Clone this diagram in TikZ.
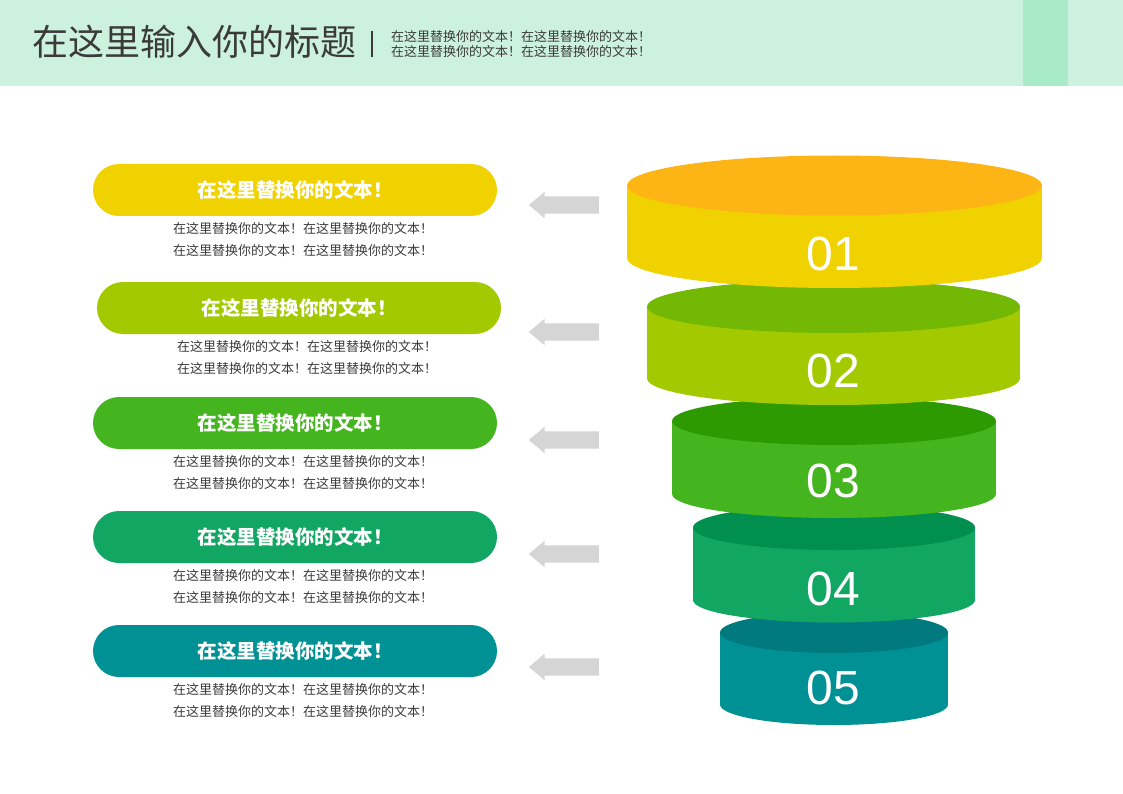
\documentclass[tikz,border=0pt]{standalone}
\usepackage{fontspec}
\setmainfont{Liberation Sans}
\newfontfamily\cjk{Noto Sans CJK SC}
\usetikzlibrary{shapes.arrows}
\definecolor{headMint}{HTML}{CCF1DE}
\definecolor{headStrip}{HTML}{A9EBC9}
\definecolor{arrowGray}{HTML}{D5D5D5}
\definecolor{textGray}{HTML}{3A3A3A}
\definecolor{topA}{HTML}{FDB515}
\definecolor{sideA}{HTML}{F0D200}
\definecolor{topB}{HTML}{72B805}
\definecolor{sideB}{HTML}{A3CA00}
\definecolor{topC}{HTML}{2E9A02}
\definecolor{sideC}{HTML}{44B51F}
\definecolor{topD}{HTML}{008F4F}
\definecolor{sideD}{HTML}{12A663}
\definecolor{topE}{HTML}{007A7E}
\definecolor{sideE}{HTML}{009194}

\begin{document}
\begin{tikzpicture}[x=1pt, y=-1pt,
    every node/.style={inner sep=0pt},
    pill/.style={rounded corners=26pt, minimum width=404pt, minimum height=52pt, text=white, font=\cjk\bfseries\fontsize{19.5}{21}\selectfont},
    note/.style={align=center, text=textGray, font=\cjk\fontsize{13}{21.5}\selectfont},
    num/.style={text=white, font=\fontsize{48}{48}\selectfont},
    back/.style={single arrow, fill=arrowGray, inner xsep=0pt, inner ysep=8.5pt, minimum height=70pt, single arrow head extend=4.5pt, single arrow tip angle=80, shape border rotate=180}]
    \useasboundingbox (0,0) rectangle (1123,794);
    % header band
    \fill[headMint] (0,0) rectangle (1123,86);
    \fill[headStrip] (1023,0) rectangle (1068,86);
    \node[anchor=west, text=textGray, font=\cjk\fontsize{36}{36}\selectfont] (title) at (32,42) {在这里输入你的标题};
    \draw[textGray, line width=1.2pt] (372,31) -- (372,57);
    \node[anchor=west, align=left, text=textGray, font=\cjk\fontsize{13}{15}\selectfont] (sub) at (391,44) {在这里替换你的文本！在这里替换你的文本！\\在这里替换你的文本！在这里替换你的文本！};

    % funnel, drawn from the bottom layer up
    \fill[sideE] (720,632.5) rectangle (948,704.5);
    \fill[sideE] (834,704.5) ellipse [x radius=114, y radius=20.5];
    \fill[topE] (834,632.5) ellipse [x radius=114, y radius=20.5];
    \node[num] (n5) at (833,688) {05};

    \fill[sideD] (693,527.5) rectangle (975,600);
    \fill[sideD] (834,600) ellipse [x radius=141, y radius=22.5];
    \fill[topD] (834,527.5) ellipse [x radius=141, y radius=22.5];
    \node[num] (n4) at (833,589) {04};

    \fill[sideC] (672,421) rectangle (996,494);
    \fill[sideC] (834,494) ellipse [x radius=162, y radius=24];
    \fill[topC] (834,421) ellipse [x radius=162, y radius=24];
    \node[num] (n3) at (833,481) {03};

    \fill[sideB] (647,306.5) rectangle (1020,378.5);
    \fill[sideB] (833.5,378.5) ellipse [x radius=186.5, y radius=26.5];
    \fill[topB] (833.5,306.5) ellipse [x radius=186.5, y radius=26.5];
    \node[num] (n2) at (833,371) {02};

    \fill[sideA] (627,185.5) rectangle (1042,258);
    \fill[sideA] (834.5,258) ellipse [x radius=207.5, y radius=30];
    \fill[topA] (834.5,185.5) ellipse [x radius=207.5, y radius=30];
    \node[num] (n1) at (833,254) {01};

    % arrows
    \node[back] (a1) at (569,205) {};
    \node[back] (a2) at (569,332) {};
    \node[back] (a3) at (569,440) {};
    \node[back] (a4) at (569,554) {};
    \node[back] (a5) at (569,667) {};

    % labels
    \node[pill, fill=sideA] (p1) at (295,190) {在这里替换你的文本！};
    \node[note] (t1) at (303,239.5) {在这里替换你的文本！在这里替换你的文本！\\在这里替换你的文本！在这里替换你的文本！};
    \node[pill, fill=sideB] (p2) at (299,308) {在这里替换你的文本！};
    \node[note] (t2) at (307,357.5) {在这里替换你的文本！在这里替换你的文本！\\在这里替换你的文本！在这里替换你的文本！};
    \node[pill, fill=sideC] (p3) at (295,423) {在这里替换你的文本！};
    \node[note] (t3) at (303,472.5) {在这里替换你的文本！在这里替换你的文本！\\在这里替换你的文本！在这里替换你的文本！};
    \node[pill, fill=sideD] (p4) at (295,537) {在这里替换你的文本！};
    \node[note] (t4) at (303,586.5) {在这里替换你的文本！在这里替换你的文本！\\在这里替换你的文本！在这里替换你的文本！};
    \node[pill, fill=sideE] (p5) at (295,651) {在这里替换你的文本！};
    \node[note] (t5) at (303,700.5) {在这里替换你的文本！在这里替换你的文本！\\在这里替换你的文本！在这里替换你的文本！};
\end{tikzpicture}
\end{document}
